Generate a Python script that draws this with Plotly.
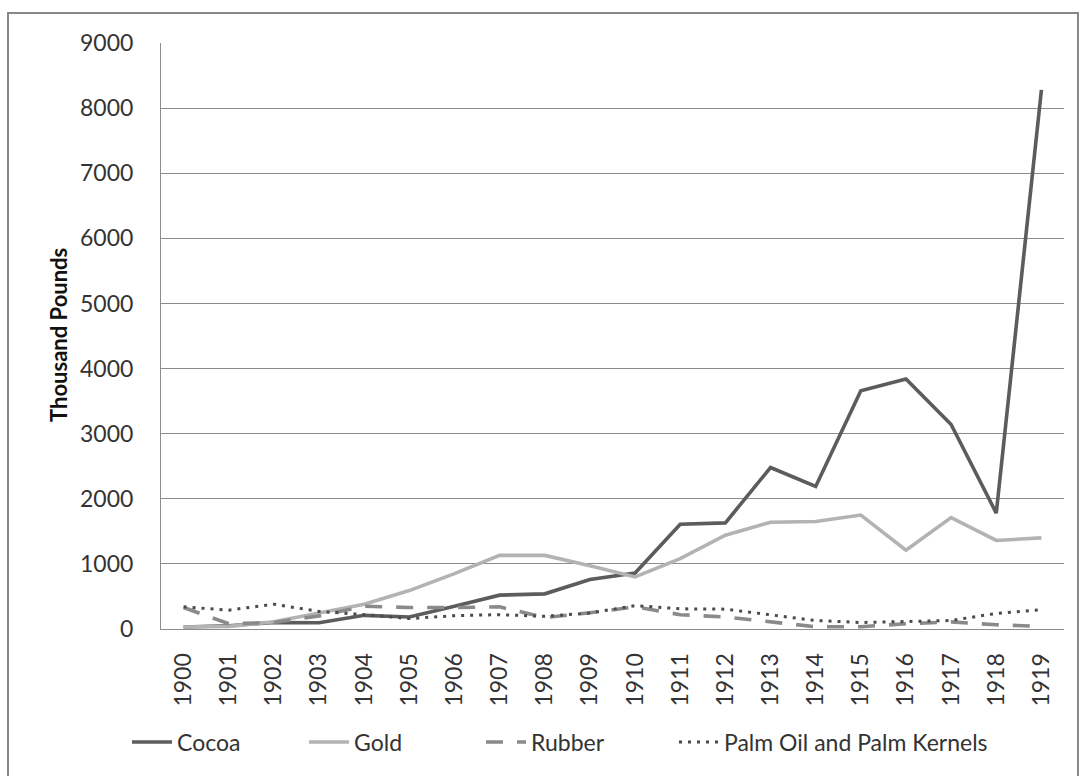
import plotly.graph_objects as go

years = [str(y) for y in range(1900, 1920)]
cocoa = [30, 50, 100, 95, 210, 185, 350, 520, 540, 760, 860, 1610, 1630, 2480, 2190, 3660, 3840, 3140, 1780, 8280]
gold = [30, 40, 110, 250, 380, 590, 850, 1130, 1130, 970, 800, 1080, 1440, 1640, 1650, 1750, 1210, 1710, 1360, 1400]
rubber = [330, 80, 100, 200, 350, 330, 330, 340, 175, 250, 340, 220, 185, 110, 35, 35, 80, 110, 65, 40]
palm = [340, 290, 380, 270, 220, 160, 205, 220, 195, 245, 360, 310, 305, 220, 130, 100, 115, 130, 240, 295]

FONT = "Lato"
W, H = 1079, 776
L, R, T, B = 161, 1064, 43, 629  # plot area in pixels

fig = go.Figure()
fig.add_trace(go.Scatter(x=years, y=cocoa, name="Cocoa", mode="lines",
                         line=dict(color="#5c5c5c", width=3.6)))
fig.add_trace(go.Scatter(x=years, y=gold, name="Gold", mode="lines",
                         line=dict(color="#b3b3b3", width=3.6)))
fig.add_trace(go.Scatter(x=years, y=rubber, name="Rubber", mode="lines",
                         line=dict(color="#8a8a8a", width=3.6, dash="17px,14px")))
fig.add_trace(go.Scatter(x=years, y=palm, name="Palm Oil and Palm Kernels", mode="lines",
                         legend="legend2",
                         line=dict(color="#4a4a4a", width=3, dash="3px,6px")))

pw, ph = R - L, B - T
def px(xp):
    return (xp - L) / pw
def py(yp):
    return (B - yp) / ph

legfont = dict(family=FONT, size=23, color="#333333")
fig.update_layout(
    width=W, height=H,
    margin=dict(l=L, r=W - R, t=T, b=H - B, autoexpand=False),
    paper_bgcolor="white", plot_bgcolor="white",
    font=dict(family=FONT, size=23, color="#333333"),
    showlegend=True,
    legend=dict(orientation="h", x=px(127), xanchor="left", y=py(742), yanchor="middle",
                font=legfont, bgcolor="rgba(0,0,0,0)", itemwidth=40, tracegroupgap=0,
                entrywidth=122, entrywidthmode="pixels"),
    legend2=dict(orientation="h", x=px(674), xanchor="left", y=py(742), yanchor="middle",
                 font=legfont, bgcolor="rgba(0,0,0,0)", itemwidth=40, tracegroupgap=0),
    xaxis=dict(type="category", range=[-0.5, 19.5], showgrid=False,
               showline=True, linecolor="#8c8c8c", linewidth=1,
               ticks="", tickangle=-90, ticklabelstandoff=14,
               tickfont=dict(family=FONT, size=23, color="#333333"), fixedrange=True),
    yaxis=dict(range=[0, 9000], dtick=1000, showgrid=True, gridcolor="#8c8c8c", gridwidth=1,
               showline=True, linecolor="#8c8c8c", linewidth=1, zeroline=False,
               ticks="", ticklabelstandoff=22,
               tickfont=dict(family=FONT, size=23, color="#333333"), fixedrange=True),
    annotations=[dict(text="<b>Thousand Pounds</b>", xref="paper", yref="paper",
                      x=px(58), y=py(335), xanchor="center", yanchor="middle",
                      textangle=-90, showarrow=False,
                      font=dict(family=FONT, size=22, color="#111111"))],
    shapes=[dict(type="rect", xref="paper", yref="paper",
                 x0=px(8), x1=px(1078), y0=py(790), y1=py(13),
                 line=dict(color="#878787", width=2), layer="below")],
)

fig.write_html("out.html")
